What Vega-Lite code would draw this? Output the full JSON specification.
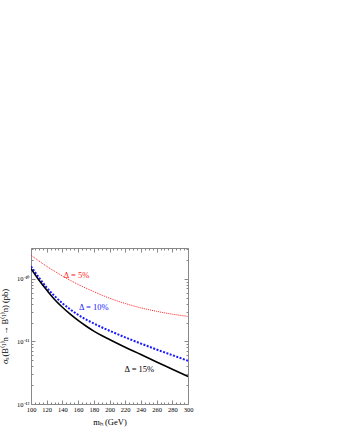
{
  "$schema": "https://vega.github.io/schema/vega-lite/v6.json",
  "autosize": "none",
  "width": 157,
  "height": 156,
  "padding": {"left": 31, "top": 248, "right": 149, "bottom": 32},
  "background": "white",
  "config": {
    "view": {"stroke": null},
    "font": "Liberation Serif",
    "axis": {"labelFont": "Liberation Serif", "titleFont": "Liberation Serif", "domainColor": "#888", "tickColor": "#888", "labelColor": "black", "titleColor": "black", "titleFontWeight": "normal", "grid": false, "labelFontSize": 6.5, "titleFontSize": 8.5, "domainWidth": 1}
  },
  "datasets": {
    "curves": [
      {"m": 100, "sigma": 2.37e-10, "delta": "5%"},
      {"m": 110, "sigma": 1.93e-10, "delta": "5%"},
      {"m": 120, "sigma": 1.58e-10, "delta": "5%"},
      {"m": 130, "sigma": 1.32e-10, "delta": "5%"},
      {"m": 140, "sigma": 1.11e-10, "delta": "5%"},
      {"m": 150, "sigma": 9.44e-11, "delta": "5%"},
      {"m": 160, "sigma": 8.13e-11, "delta": "5%"},
      {"m": 170, "sigma": 7.08e-11, "delta": "5%"},
      {"m": 180, "sigma": 6.24e-11, "delta": "5%"},
      {"m": 190, "sigma": 5.50e-11, "delta": "5%"},
      {"m": 200, "sigma": 4.90e-11, "delta": "5%"},
      {"m": 220, "sigma": 4.03e-11, "delta": "5%"},
      {"m": 240, "sigma": 3.43e-11, "delta": "5%"},
      {"m": 260, "sigma": 3.02e-11, "delta": "5%"},
      {"m": 280, "sigma": 2.72e-11, "delta": "5%"},
      {"m": 300, "sigma": 2.51e-11, "delta": "5%"},
      {"m": 100, "sigma": 1.58e-10, "delta": "10%"},
      {"m": 110, "sigma": 1.05e-10, "delta": "10%"},
      {"m": 120, "sigma": 7.24e-11, "delta": "10%"},
      {"m": 130, "sigma": 5.31e-11, "delta": "10%"},
      {"m": 140, "sigma": 4.07e-11, "delta": "10%"},
      {"m": 150, "sigma": 3.24e-11, "delta": "10%"},
      {"m": 160, "sigma": 2.66e-11, "delta": "10%"},
      {"m": 170, "sigma": 2.24e-11, "delta": "10%"},
      {"m": 180, "sigma": 1.93e-11, "delta": "10%"},
      {"m": 190, "sigma": 1.68e-11, "delta": "10%"},
      {"m": 200, "sigma": 1.48e-11, "delta": "10%"},
      {"m": 220, "sigma": 1.16e-11, "delta": "10%"},
      {"m": 240, "sigma": 9.23e-12, "delta": "10%"},
      {"m": 260, "sigma": 7.41e-12, "delta": "10%"},
      {"m": 280, "sigma": 6.03e-12, "delta": "10%"},
      {"m": 300, "sigma": 4.90e-12, "delta": "10%"},
      {"m": 100, "sigma": 1.45e-10, "delta": "15%"},
      {"m": 110, "sigma": 9.55e-11, "delta": "15%"},
      {"m": 120, "sigma": 6.61e-11, "delta": "15%"},
      {"m": 130, "sigma": 4.68e-11, "delta": "15%"},
      {"m": 140, "sigma": 3.51e-11, "delta": "15%"},
      {"m": 150, "sigma": 2.72e-11, "delta": "15%"},
      {"m": 160, "sigma": 2.16e-11, "delta": "15%"},
      {"m": 170, "sigma": 1.76e-11, "delta": "15%"},
      {"m": 180, "sigma": 1.46e-11, "delta": "15%"},
      {"m": 190, "sigma": 1.24e-11, "delta": "15%"},
      {"m": 200, "sigma": 1.07e-11, "delta": "15%"},
      {"m": 220, "sigma": 8.04e-12, "delta": "15%"},
      {"m": 240, "sigma": 6.17e-12, "delta": "15%"},
      {"m": 260, "sigma": 4.68e-12, "delta": "15%"},
      {"m": 280, "sigma": 3.59e-12, "delta": "15%"},
      {"m": 300, "sigma": 2.75e-12, "delta": "15%"}
    ],
    "labels": [
      {"m": 158, "sigma": 1.13e-10, "text": "Δ =  5%", "delta": "5%"},
      {"m": 180, "sigma": 3.5e-11, "text": "Δ = 10%", "delta": "10%"},
      {"m": 238, "sigma": 3.67e-12, "text": "Δ = 15%", "delta": "15%"}
    ]
  },
  "resolve": {"axis": {"x": "independent", "y": "independent"}},
  "layer": [
    {
      "data": {"name": "curves"},
      "transform": [{"filter": "datum.delta == '5%'"}],
      "mark": {"type": "line", "color": "#ff2020", "strokeWidth": 1, "strokeDash": [1, 1], "interpolate": "monotone", "clip": true},
      "encoding": {
        "x": {"field": "m", "type": "quantitative", "scale": {"domain": [100, 300], "nice": false},
          "axis": {"orient": "bottom", "title": "mₕ  (GeV)", "values": [100,105,110,115,120,125,130,135,140,145,150,155,160,165,170,175,180,185,190,195,200,205,210,215,220,225,230,235,240,245,250,255,260,265,270,275,280,285,290,295,300],
            "labelExpr": "datum.value % 20 == 0 ? datum.label : ''", "tickSize": {"condition": {"test": "datum.value % 20 == 0", "value": -4}, "value": -2}, "labelPadding": 6, "titlePadding": 3, "labelFlush": false, "labelOverlap": false}},
        "y": {"field": "sigma", "type": "quantitative", "scale": {"type": "log", "domain": [1e-12, 3.1e-10], "nice": false},
          "axis": {"orient": "left", "title": "σₛ(B⁽¹⁾n → B⁽¹⁾n)  (pb)", "values": [1e-12,2e-12,3e-12,4e-12,5e-12,6e-12,7e-12,8e-12,9e-12,1e-11,2e-11,3e-11,4e-11,5e-11,6e-11,7e-11,8e-11,9e-11,1e-10,2e-10,3e-10],
            "labelExpr": "abs(log(datum.value)/LN10 - round(log(datum.value)/LN10)) < 0.01 ? (round(log(datum.value)/LN10) == -12 ? '10⁻¹²' : round(log(datum.value)/LN10) == -11 ? '10⁻¹¹' : '10⁻¹⁰') : ''",
            "tickSize": {"condition": {"test": "abs(log(datum.value)/LN10 - round(log(datum.value)/LN10)) < 0.01", "value": -4}, "value": -2}, "labelPadding": 6, "titlePadding": 7, "labelFlush": false, "labelOverlap": false}}
      }
    },
    {
      "data": {"name": "curves"},
      "transform": [{"filter": "datum.delta == '10%'"}],
      "mark": {"type": "line", "color": "#1a1aff", "strokeWidth": 2, "strokeDash": [2, 1.5], "interpolate": "monotone", "clip": true},
      "encoding": {
        "x": {"field": "m", "type": "quantitative",
          "axis": {"orient": "top", "title": null, "labels": false, "values": [100,105,110,115,120,125,130,135,140,145,150,155,160,165,170,175,180,185,190,195,200,205,210,215,220,225,230,235,240,245,250,255,260,265,270,275,280,285,290,295,300],
            "tickSize": {"condition": {"test": "datum.value % 20 == 0", "value": -4}, "value": -2}}},
        "y": {"field": "sigma", "type": "quantitative",
          "axis": {"orient": "right", "title": null, "labels": false, "values": [1e-12,2e-12,3e-12,4e-12,5e-12,6e-12,7e-12,8e-12,9e-12,1e-11,2e-11,3e-11,4e-11,5e-11,6e-11,7e-11,8e-11,9e-11,1e-10,2e-10,3e-10],
            "tickSize": {"condition": {"test": "abs(log(datum.value)/LN10 - round(log(datum.value)/LN10)) < 0.01", "value": -4}, "value": -2}}}
      }
    },
    {
      "data": {"name": "curves"},
      "transform": [{"filter": "datum.delta == '15%'"}],
      "mark": {"type": "line", "color": "black", "strokeWidth": 1.6, "interpolate": "monotone", "clip": true},
      "encoding": {
        "x": {"field": "m", "type": "quantitative", "axis": null},
        "y": {"field": "sigma", "type": "quantitative", "axis": null}
      }
    },
    {
      "data": {"name": "labels"},
      "mark": {"type": "text", "font": "Liberation Serif", "fontSize": 8.5, "align": "center", "baseline": "middle"},
      "encoding": {
        "x": {"field": "m", "type": "quantitative", "axis": null},
        "y": {"field": "sigma", "type": "quantitative", "axis": null},
        "text": {"field": "text"},
        "color": {"field": "delta", "type": "nominal", "scale": {"domain": ["5%", "10%", "15%"], "range": ["#ff2020", "#1a1aff", "black"]}, "legend": null}
      }
    }
  ]
}
